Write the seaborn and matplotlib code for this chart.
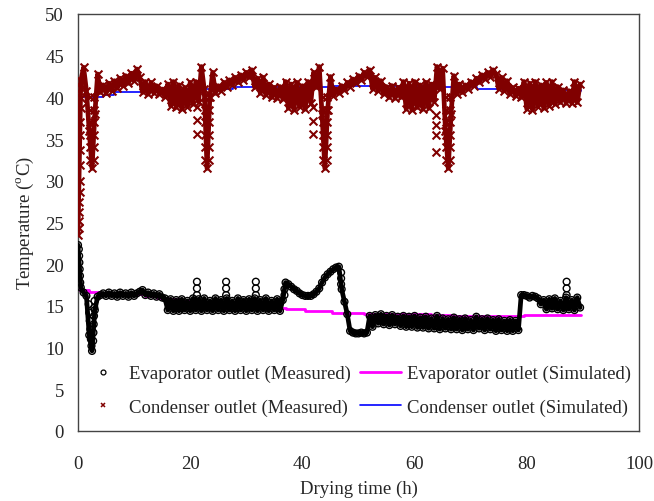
import numpy as np
import matplotlib
matplotlib.use("Agg")
import matplotlib.pyplot as plt
from matplotlib.lines import Line2D
import seaborn as sns

# measured outlet temperatures, one reading every half hour
LOG_STEP = 0.5  # h

evap_meas = [
    22.3, 17.2, 16.6, 16.2, 11.5, 9.6, 14.5, 16.1, 16.3, 16.5,
    16.2, 16.6, 16.2, 16.5, 16.1, 16.6, 16.2, 16.5, 16.1, 16.6,
    16.2, 16.5, 16.7, 16.9, 16.3, 16.6, 16.2, 16.5, 16.1, 16.4,
    16.0, 15.9, 14.5, 15.8, 14.4, 15.7, 14.4, 15.8, 14.5, 15.6,
    14.4, 15.9, 14.5, 15.8, 14.4, 15.9, 14.5, 15.6, 14.4, 15.9,
    14.5, 15.7, 14.4, 15.9, 14.5, 15.6, 14.4, 15.9, 14.5, 15.7,
    14.4, 15.8, 14.5, 15.9, 14.4, 15.7, 14.5, 15.9, 14.4, 15.6,
    14.5, 15.8, 14.4, 15.7, 17.8, 17.6, 17.3, 17.0, 16.8, 16.5,
    16.3, 16.2, 16.2, 16.2, 16.4, 16.7, 17.1, 17.8, 18.4, 18.8,
    19.1, 19.4, 19.6, 19.7, 17.0, 15.5, 14.0, 12.0, 11.8, 11.7,
    11.7, 11.8, 11.7, 11.8, 13.8, 12.5, 13.9, 12.9, 14.0, 12.8,
    13.8, 12.7, 13.9, 12.8, 13.7, 12.6, 13.8, 12.5, 13.7, 12.5,
    13.8, 12.4, 13.6, 12.4, 13.7, 12.3, 13.5, 12.3, 13.8, 12.2,
    13.5, 12.3, 13.4, 12.2, 13.6, 12.2, 13.4, 12.1, 13.5, 12.2,
    13.3, 12.1, 13.7, 12.3, 13.4, 12.1, 13.5, 12.2, 13.3, 12.0,
    13.4, 12.1, 13.2, 12.0, 13.3, 12.0, 13.2, 12.1, 16.3, 16.3,
    16.2, 16.0, 16.2, 16.1, 15.9, 15.2, 15.7, 14.6, 15.8, 14.7,
    15.9, 14.6, 15.6, 14.5, 16.0, 14.6, 15.7, 14.5, 16.0, 14.8,
]

cond_meas = [
    23.5, 42.0, 43.6, 40.8, 36.0, 31.5, 38.0, 42.8, 40.6, 41.5,
    40.5, 41.7, 40.8, 42.0, 41.1, 42.3, 41.4, 42.6, 41.7, 42.9,
    42.0, 43.4, 42.4, 40.6, 41.9, 40.4, 41.8, 40.5, 41.4, 40.4,
    41.0, 40.1, 41.6, 39.0, 41.9, 38.8, 41.5, 38.6, 41.2, 38.9,
    41.8, 39.2, 41.9, 39.5, 43.7, 41.0, 31.5, 40.0, 43.0, 40.5,
    41.4, 40.8, 41.8, 41.2, 42.1, 41.5, 42.4, 41.8, 42.7, 42.1,
    43.0, 42.4, 43.3, 41.2, 42.3, 40.5, 42.4, 40.3, 41.6, 40.0,
    41.2, 39.9, 41.3, 39.8, 41.9, 38.7, 41.6, 38.5, 41.8, 38.9,
    41.4, 38.6, 41.9, 39.3, 43.0, 41.2, 43.7, 38.0, 31.5, 38.5,
    42.5, 40.2, 41.0, 40.5, 41.4, 40.9, 41.8, 41.3, 42.2, 41.7,
    42.6, 42.1, 43.0, 42.5, 43.3, 41.0, 42.4, 40.8, 42.0, 40.4,
    41.3, 40.0, 41.4, 39.9, 41.2, 40.0, 41.9, 38.6, 41.7, 38.5,
    41.9, 38.8, 41.5, 38.6, 41.8, 38.7, 41.6, 39.5, 43.7, 41.0,
    43.5, 36.0, 31.5, 38.0, 42.6, 40.4, 41.6, 40.6, 41.5, 41.0,
    41.9, 41.4, 42.3, 41.8, 42.7, 42.2, 43.0, 42.5, 43.3, 42.8,
    41.0, 42.4, 40.8, 42.0, 40.4, 41.2, 40.2, 41.1, 40.0, 41.9,
    38.6, 41.7, 38.5, 41.9, 38.9, 41.5, 38.7, 41.8, 39.0, 41.9,
    39.2, 41.3, 39.4, 40.9, 39.3, 40.8, 39.3, 41.9, 39.4, 41.6,
]

# readings logged in between: start-up, the dips and the short spikes
evap_extra_t = [0.15, 0.2, 0.25, 0.3, 0.35, 0.4,
                1.9, 2.0, 2.1, 2.2, 2.3, 2.4, 2.7, 2.75, 2.8, 2.85, 2.9, 2.95,
                21.2, 21.2, 21.2, 26.4, 26.4, 26.4, 31.7, 31.7, 31.7,
                36.8, 36.8, 46.9, 46.9, 46.9, 87.1, 87.1, 87.1]
evap_extra_T = [21.8, 21.0, 20.2, 19.4, 18.6, 17.8,
                15.2, 14.2, 13.2, 12.2, 11.0, 10.2, 10.8, 11.8, 12.8, 13.8, 14.8, 15.6,
                16.3, 17.1, 17.9, 16.3, 17.1, 17.9, 16.3, 17.1, 17.9,
                16.3, 17.0, 19.0, 18.3, 17.6, 16.3, 17.1, 17.9]

cond_extra_t = [0.1, 0.15, 0.2, 0.25, 0.3, 0.3, 0.35, 0.35, 0.4, 0.4, 0.45, 0.45, 0.5,
                2.15, 2.15, 2.15, 2.15, 2.15, 2.15, 2.85, 2.85, 2.85, 2.85, 2.85, 2.85,
                22.65, 22.65, 22.65, 22.65, 22.65, 22.65, 23.35, 23.35, 23.35, 23.35, 23.35, 23.35,
                43.65, 43.65, 43.65, 43.65, 43.65, 43.65, 44.35, 44.35, 44.35, 44.35, 44.35, 44.35,
                65.65, 65.65, 65.65, 65.65, 65.65, 65.65, 66.35, 66.35, 66.35, 66.35, 66.35, 66.35,
                21.2, 21.2, 21.2, 41.9, 41.9, 41.9, 63.9, 63.9, 63.9, 63.9]
cond_extra_T = [24.3, 25.2, 26.3, 27.5, 28.7, 30.0, 31.9, 33.7, 35.5, 37.1, 38.7, 39.9, 41.1,
                40.0, 38.5, 37.0, 35.5, 34.0, 32.5, 32.5, 34.0, 35.5, 37.0, 38.5, 40.0,
                40.0, 38.5, 37.0, 35.5, 34.0, 32.5, 32.5, 34.0, 35.5, 37.0, 38.5, 40.0,
                40.0, 38.5, 37.0, 35.5, 34.0, 32.5, 32.5, 34.0, 35.5, 37.0, 38.5, 40.0,
                40.0, 38.5, 37.0, 35.5, 34.0, 32.5, 32.5, 34.0, 35.5, 37.0, 38.5, 40.0,
                38.9, 37.3, 35.6, 38.8, 37.2, 35.6, 37.9, 36.7, 35.5, 33.5]

# simulated outlet temperatures (stepwise)
evap_sim_t = [0, 2, 4, 8, 12, 14, 16, 18, 20, 25, 30, 35, 37, 40.5, 45.3, 51, 63, 66.5, 79.5, 89.6]
evap_sim_T = [16.9, 16.7, 16.6, 16.4, 16.2, 16.0, 15.8, 15.6, 15.5, 15.2, 15.0, 14.8, 14.6,
              14.4, 14.2, 14.0, 13.9, 13.8, 13.95, 13.95]
cond_sim_t = [0, 4.4, 6.5, 10.4, 15.5, 22.5, 27.6, 40, 45, 58, 63, 68, 71.2, 76, 80, 89.6]
cond_sim_T = [40.1, 40.3, 40.6, 40.7, 40.9, 41.0, 41.2, 41.3, 41.4, 41.4, 41.3, 41.2,
              41.0, 41.0, 40.9, 40.8]

labels = ["Evaporator outlet (Measured)", "Condenser outlet (Measured)",
          "Evaporator outlet (Simulated)", "Condenser outlet (Simulated)"]

DARK_RED = "#800000"

sns.set_style("white")
plt.rcParams["font.family"] = ["Liberation Serif", "DejaVu Serif"]
plt.rcParams["mathtext.fontset"] = "custom"
plt.rcParams["mathtext.rm"] = "Liberation Serif"
plt.rcParams["font.size"] = 13.5

fig, ax = plt.subplots(figsize=(6.54, 5.02), dpi=100)
fig.subplots_adjust(left=78 / 654, right=639 / 654, bottom=1 - 432 / 502, top=1 - 15 / 502)

t_evap = np.arange(len(evap_meas)) * LOG_STEP
t_cond = np.arange(len(cond_meas)) * LOG_STEP

sns.lineplot(x=evap_sim_t, y=evap_sim_T, drawstyle="steps-post", color="#ff00ff", lw=2.0, ax=ax, zorder=2)
sns.lineplot(x=cond_sim_t, y=cond_sim_T, drawstyle="steps-post", color="#0000ff", lw=1.2, ax=ax, zorder=2)

# trace joining the readings so the dense logging reads as a solid band
ax.plot(t_evap, evap_meas, color="black", lw=3.4, zorder=3)
ax.plot(t_cond, cond_meas, color=DARK_RED, lw=3.4, zorder=3)

sns.scatterplot(x=np.r_[t_evap, evap_extra_t], y=np.r_[evap_meas, evap_extra_T], marker="o", s=24,
                facecolor="none", edgecolor="black", linewidth=1.0, ax=ax, zorder=4, legend=False)
sns.scatterplot(x=np.r_[t_cond, cond_extra_t], y=np.r_[cond_meas, cond_extra_T], marker="x", s=32,
                color=DARK_RED, linewidth=1.5, ax=ax, zorder=4, legend=False)

ax.set_xlim(0, 100)
ax.set_ylim(0, 50)
ax.set_xticks(range(0, 101, 20))
ax.set_yticks(range(0, 51, 5))
ax.tick_params(axis="x", length=0, pad=17)
ax.tick_params(axis="y", length=0, pad=10)
ax.set_xlabel("Drying time (h)", labelpad=6)
ax.set_ylabel(r"Temperature ($^{\mathrm{o}}$C)", labelpad=7)
for sp in ax.spines.values():
    sp.set_color("#444444")
    sp.set_linewidth(1.0)

handles = [
    Line2D([], [], ls="none", marker="o", ms=3.5, mfc="none", mec="black", mew=0.9),
    Line2D([], [], ls="none", marker="x", ms=3.5, color=DARK_RED, mew=1.1),
    Line2D([], [], color="#ff00ff", lw=2.0),
    Line2D([], [], color="#0000ff", lw=1.2),
]
ax.legend(handles, labels, ncol=2, frameon=False, loc="upper left", bbox_to_anchor=(0.007, 0.158),
          borderpad=0, borderaxespad=0, handlelength=2.2, handletextpad=0.3,
          columnspacing=0.5, labelspacing=0.85)

fig.savefig("out.png", dpi=100)
